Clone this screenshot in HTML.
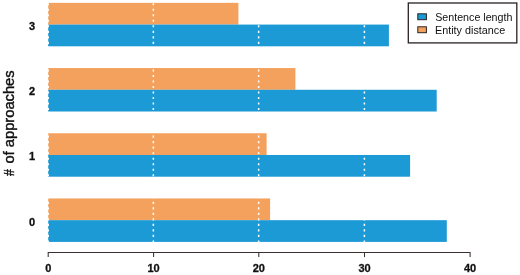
<!DOCTYPE html><html><head><meta charset="utf-8"><title>chart</title><style>html,body{margin:0;padding:0;background:#fff}svg{display:block}text{font-family:"Liberation Sans",Arial,sans-serif;fill:#111}</style></head><body>
<svg width="520" height="275" viewBox="0 0 520 275">
<rect width="520" height="275" fill="#fff"/>
<rect x="48.2" y="2.85" width="190.20" height="21.73" fill="#F3A15D"/>
<rect x="48.2" y="24.58" width="340.70" height="21.73" fill="#1C9AD5"/>
<text x="32.1" y="29.5" font-size="11" font-weight="bold" text-anchor="middle" stroke="#111" stroke-width="0.3">3</text>
<rect x="48.2" y="68.05" width="247.20" height="21.73" fill="#F3A15D"/>
<rect x="48.2" y="89.78" width="388.50" height="21.73" fill="#1C9AD5"/>
<text x="32.1" y="95" font-size="11" font-weight="bold" text-anchor="middle" stroke="#111" stroke-width="0.3">2</text>
<rect x="48.2" y="133.25" width="218.40" height="21.73" fill="#F3A15D"/>
<rect x="48.2" y="154.98" width="361.90" height="21.73" fill="#1C9AD5"/>
<text x="32.1" y="160.4" font-size="11" font-weight="bold" text-anchor="middle" stroke="#111" stroke-width="0.3">1</text>
<rect x="48.2" y="198.45" width="221.90" height="21.73" fill="#F3A15D"/>
<rect x="48.2" y="220.18" width="398.60" height="21.73" fill="#1C9AD5"/>
<text x="32.1" y="225.9" font-size="11" font-weight="bold" text-anchor="middle" stroke="#111" stroke-width="0.3">0</text>
<line x1="48.20" y1="3.2" x2="48.20" y2="242.5" stroke="#fff" stroke-width="1.5" stroke-dasharray="2.1 3.416"/>
<line x1="153.35" y1="3.2" x2="153.35" y2="242.5" stroke="#fff" stroke-width="1.5" stroke-dasharray="2.1 3.416"/>
<line x1="258.65" y1="3.2" x2="258.65" y2="242.5" stroke="#fff" stroke-width="1.5" stroke-dasharray="2.1 3.416"/>
<line x1="364.40" y1="3.2" x2="364.40" y2="242.5" stroke="#fff" stroke-width="1.5" stroke-dasharray="2.1 3.416"/>
<line x1="470.00" y1="3.2" x2="470.00" y2="242.5" stroke="#fff" stroke-width="1.5" stroke-dasharray="2.1 3.416"/>
<path d="M48.2 257.1V252.4H470.10V257.1" fill="none" stroke="#3a3030" stroke-width="1.05"/>
<line x1="153.60" y1="252.4" x2="153.60" y2="257.1" stroke="#3a3030" stroke-width="1.05"/>
<line x1="258.80" y1="252.4" x2="258.80" y2="257.1" stroke="#3a3030" stroke-width="1.05"/>
<line x1="364.50" y1="252.4" x2="364.50" y2="257.1" stroke="#3a3030" stroke-width="1.05"/>
<text x="48.30" y="272" font-size="11" font-weight="bold" text-anchor="middle" stroke="#111" stroke-width="0.3">0</text>
<text x="153.60" y="272" font-size="11" font-weight="bold" text-anchor="middle" stroke="#111" stroke-width="0.3">10</text>
<text x="258.80" y="272" font-size="11" font-weight="bold" text-anchor="middle" stroke="#111" stroke-width="0.3">20</text>
<text x="364.50" y="272" font-size="11" font-weight="bold" text-anchor="middle" stroke="#111" stroke-width="0.3">30</text>
<text x="470.10" y="272" font-size="11" font-weight="bold" text-anchor="middle" stroke="#111" stroke-width="0.3">40</text>
<text transform="translate(13.9,176.1) rotate(-90)" font-size="14.7" stroke="#111" stroke-width="0.4"><tspan textLength="6.9" lengthAdjust="spacingAndGlyphs">#</tspan><tspan x="8.56"> of approaches</tspan></text>
<rect x="408.3" y="3" width="108.5" height="39.9" fill="#fff" stroke="#2a2222" stroke-width="1.3"/>
<rect x="417.8" y="13.8" width="8.6" height="5.9" fill="#1C9AD5" stroke="#2a2222" stroke-width="1"/>
<rect x="417.8" y="26.8" width="8.6" height="5.9" fill="#F3A15D" stroke="#2a2222" stroke-width="1"/>
<text x="435.2" y="21.1" font-size="11.5" textLength="77.2" lengthAdjust="spacingAndGlyphs">Sentence length</text>
<text x="435.0" y="34.1" font-size="11.5" textLength="70.2" lengthAdjust="spacingAndGlyphs">Entity distance</text>
</svg></body></html>
